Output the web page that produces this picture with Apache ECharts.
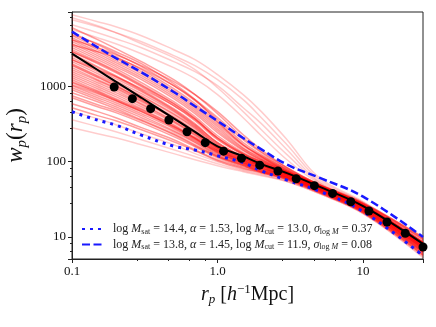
<!DOCTYPE html>
<html><head><meta charset="utf-8">
<script src="https://cdn.jsdelivr.net/npm/echarts@6/dist/echarts.min.js"></script>
<style>html,body{margin:0;padding:0;background:#fff;}#c{width:436px;height:327px;}</style>
</head><body><div id="c"></div>
<script>
// ---------- data ----------
const rpGrid = [0.1, 0.15, 0.2, 0.3, 0.5, 0.7, 1.0, 1.5, 2, 3, 5, 10, 25.8];
const bestFit = [2719, 1651, 1158, 706, 376, 249, 160, 118, 93, 70.4, 46.6, 25.7, 8.1];
const hodDotted = [461, 356, 306, 225, 161, 143, 120, 97, 75.6, 56.8, 40.6, 21.7, 5.65];
const hodDashed = [5330, 3300, 2380, 1540, 843, 545, 347, 206, 146, 91.5, 61.3, 34.3, 10.0];

const obsRp = [0.195, 0.26, 0.347, 0.463, 0.617, 0.823, 1.10, 1.46, 1.95, 2.60, 3.47, 4.63, 6.17, 8.23, 10.97, 14.6, 19.5, 25.8];
const obsWp = [982, 687, 506, 358, 250, 179, 138, 111, 89.9, 75.2, 59.4, 48.0, 37.9, 29.4, 22.1, 15.8, 11.2, 7.36];

// posterior samples (one per curve, on rpGrid)
const sampleA1 = [8958, 7240, 6200, 4715, 3072, 2263, 1430, 776, 462, 196, 61.3, 29.5, 9.2];
const sampleA2 = [7690, 6200, 5170, 3925, 2558, 1884, 1227, 666, 384, 168, 57.7, 28.6, 8.9];
const sampleA3 = [6596, 5170, 4302, 3267, 2129, 1568, 1021, 521, 320, 144, 54.3, 27.7, 8.6];
const sampleA4 = [8180, 6400, 5170, 3692, 2406, 1667, 961, 462, 266, 124, 52.6, 26.9, 8.4];
const sampleA5 = [5662, 4436, 3692, 2719, 1772, 1266, 776, 384, 221, 106, 51.1, 26.9, 8.4];
const sampleE1 = [462, 373, 310, 235, 168, 128, 100, 78.3, 69.3, 56.0, 38.8, 21.1, 5.6];
const sampleE2 = [361, 292, 250, 196, 144, 117, 94, 76.0, 67.2, 54.3, 37.6, 20.4, 5.5];
const sampleE3 = [283, 235, 208, 168, 128, 106, 88.6, 73.7, 65.2, 54.3, 37.6, 20.4, 5.3];
const sampleB1 = [6020, 4171, 3169, 2129, 1227, 776, 434, 208, 136, 83.3, 49.5, 26.9, 8.4];
const sampleB2 = [5170, 3580, 2719, 1827, 1021, 646, 361, 179, 124, 78.3, 48.0, 26.1, 8.1];
const sampleB3 = [4436, 3072, 2334, 1568, 877, 554, 310, 163, 117, 76.0, 48.0, 26.1, 8.1];
const sampleB4 = [3925, 2719, 2065, 1387, 776, 491, 274, 149, 110, 73.7, 46.6, 25.7, 8.1];
const sampleB5 = [3473, 2406, 1827, 1227, 686, 434, 243, 140, 106, 73.7, 48.0, 26.9, 8.6];
const sampleB6 = [3072, 2129, 1617, 1053, 589, 373, 208, 128, 100, 71.5, 46.6, 26.1, 8.4];
const sampleC1 = [2719, 1827, 1387, 904, 505, 320, 179, 117, 94, 69.3, 45.2, 25.3, 7.9];
const sampleC2 = [2406, 1667, 1266, 850, 476, 301, 173, 113, 91.3, 69.3, 45.2, 25.3, 7.6];
const sampleC3 = [2129, 1475, 1120, 752, 434, 283, 163, 110, 88.6, 67.2, 45.2, 24.5, 7.6];
const sampleC4 = [1884, 1305, 1021, 686, 396, 258, 153, 106, 88.6, 67.2, 43.8, 24.5, 7.4];
const sampleC5 = [1667, 1190, 932, 626, 373, 243, 149, 103, 85.9, 65.2, 43.8, 23.8, 7.2];
const sampleD1 = [1475, 1053, 825, 571, 340, 228, 144, 100, 83.3, 63.2, 42.5, 23.1, 7.0];
const sampleD2 = [1305, 932, 730, 505, 310, 208, 136, 97, 80.8, 63.2, 42.5, 23.1, 6.8];
const sampleD3 = [1120, 825, 646, 462, 283, 196, 132, 94, 78.3, 61.3, 41.2, 22.4, 6.6];
const sampleD4 = [961, 708, 571, 409, 258, 184, 124, 91.3, 76.0, 61.3, 41.2, 22.4, 6.4];
const sampleD5 = [825, 626, 505, 361, 235, 168, 117, 88.6, 73.7, 59.5, 40.0, 21.7, 6.2];
const sampleD6 = [708, 537, 448, 330, 215, 158, 113, 85.9, 73.7, 59.5, 40.0, 21.7, 6.0];
const sampleD7 = [589, 462, 384, 283, 196, 144, 106, 83.3, 71.5, 57.7, 38.8, 21.1, 5.8];
const sampleF1 = [4861, 3692, 2890, 2003, 1086, 666, 340, 168, 117, 73.7, 46.6, 26.1, 8.4];
const sampleF2 = [3580, 2890, 2406, 1719, 1021, 666, 384, 196, 132, 80.8, 49.5, 27.7, 9.2];
const sampleF3 = [2263, 1667, 1345, 932, 554, 361, 208, 128, 100, 73.7, 49.5, 28.6, 9.7];
const sampleF4 = [1053, 800, 646, 462, 292, 208, 140, 103, 88.6, 69.3, 48.0, 27.7, 10.0];
const sampleF5 = [4171, 3267, 2637, 1884, 1155, 776, 462, 228, 144, 83.3, 49.5, 27.7, 9.5];
const sampleG1 = [2890, 2003, 1521, 991, 554, 350, 196, 124, 97, 71.5, 46.6, 25.3, 7.9];
const sampleG2 = [2003, 1387, 1086, 730, 421, 274, 158, 110, 91.3, 67.2, 43.8, 24.5, 7.4];
const sampleG3 = [1568, 1120, 877, 589, 350, 235, 144, 103, 85.9, 65.2, 42.5, 23.8, 7.0];
const sampleG4 = [1227, 877, 686, 491, 301, 202, 136, 97, 83.3, 63.2, 42.5, 23.1, 6.8];
const sampleH1 = [4715, 3267, 2481, 1667, 932, 589, 330, 168, 120, 78.3, 48.0, 26.1, 8.1];
const sampleH2 = [3692, 2558, 1942, 1305, 730, 462, 258, 144, 106, 73.7, 48.0, 26.1, 8.1];
const sampleH3 = [3267, 2263, 1719, 1120, 626, 396, 221, 132, 103, 71.5, 46.6, 26.1, 8.1];
const sampleH4 = [2558, 1772, 1345, 877, 491, 310, 179, 117, 94, 69.3, 45.2, 25.3, 7.9];
const sampleH5 = [2263, 1568, 1190, 800, 462, 292, 168, 113, 91.3, 69.3, 45.2, 25.3, 7.6];
const sampleH6 = [1772, 1227, 961, 646, 384, 250, 153, 106, 88.6, 67.2, 43.8, 24.5, 7.4];
const sampleH7 = [1387, 991, 776, 537, 330, 221, 140, 100, 83.3, 65.2, 43.8, 23.8, 7.2];
const sampleH8 = [1155, 850, 666, 476, 292, 202, 132, 97, 80.8, 63.2, 42.5, 23.1, 7.0];
const sampleH9 = [904, 666, 537, 384, 250, 179, 120, 91.3, 76.0, 61.3, 41.2, 22.4, 6.6];
const sampleH10 = [752, 571, 476, 350, 228, 163, 117, 88.6, 73.7, 59.5, 40.0, 21.7, 6.2];
const sampleH11 = [521, 409, 350, 266, 184, 140, 103, 80.8, 71.5, 57.7, 38.8, 21.1, 5.8];
const sampleH12 = [1942, 1345, 1021, 666, 373, 243, 153, 110, 91.3, 67.2, 43.8, 23.8, 7.2];
const sampleH13 = [2890, 2065, 1568, 1021, 589, 373, 202, 124, 97, 69.3, 45.2, 24.5, 7.6];
const sampleH14 = [4171, 2890, 2195, 1475, 825, 521, 292, 153, 113, 76.0, 48.0, 26.9, 8.4];
const sampleH15 = [1021, 752, 607, 434, 274, 190, 128, 94, 78.3, 61.3, 41.2, 22.4, 6.4];
const outerSamples = [sampleA1, sampleA2, sampleA3, sampleA4, sampleA5, sampleE1, sampleE2, sampleE3];
const coreSamples = [sampleB1, sampleB2, sampleB3, sampleB4, sampleB5, sampleB6, sampleC1, sampleC2,
  sampleC3, sampleC4, sampleC5, sampleD1, sampleD2, sampleD3, sampleD4, sampleD5, sampleD6, sampleD7,
  sampleF1, sampleF2, sampleF3, sampleF4, sampleF5, sampleG1, sampleG2, sampleG3, sampleG4, sampleH1,
  sampleH2, sampleH3, sampleH4, sampleH5, sampleH6, sampleH7, sampleH8, sampleH9, sampleH10, sampleH11,
  sampleH12, sampleH13, sampleH14, sampleH15];

const xTickValues = [0.1, 1, 10];
const xTickLabels = ['0.1', '1.0', '10'];
const yTickValues = [10, 100, 1000];
const yTickLabels = ['10', '100', '1000'];

const legendLogMsat = [14.4, 13.8];
const legendAlpha = [1.53, 1.45];
const legendLogMcut = [13.0, 11.9];
const legendSigma = [0.37, 0.08];

// ---------- chart ----------
const SERIF = '"Liberation Serif", "DejaVu Serif", serif';
const BLUE = 'rgb(25,25,255)';
function tickFmt(vals, labels) {
  return function (v) {
    for (let i = 0; i < vals.length; i++) {
      if (Math.abs(Math.log10(v) - Math.log10(vals[i])) < 1e-6) return labels[i];
    }
    return '';
  };
}
function pairs(xs, ys) { return xs.map((x, i) => [x, ys[i]]); }
function legendText(i) {
  return '{gap|}{n|log }{i|M}{s|sat}{n| = ' + legendLogMsat[i].toFixed(1) + ', }{i|α}{n| = ' + legendAlpha[i].toFixed(2) +
    ', log }{i|M}{s|cut}{n| = ' + legendLogMcut[i].toFixed(1) + ', }{i|σ}{s|log }{si|M}{n| = ' + legendSigma[i].toFixed(2) + '}';
}
const legendNames = ['hodA', 'hodB'];

function sampleSeries(list, tag, alpha) {
  return list.map((s, k) => ({
    type: 'line', name: tag + k, data: pairs(rpGrid, s), symbol: 'none', showSymbol: false,
    smooth: 0.4, silent: true, z: 1,
    lineStyle: { color: 'rgba(255,0,0,' + alpha + ')', width: 1.5 }
  }));
}
const series = sampleSeries(outerSamples, 'outer', 0.2).concat(sampleSeries(coreSamples, 'core', 0.38));
series.push({
  type: 'line', name: 'hodA', data: pairs(rpGrid, hodDotted), symbol: 'none', smooth: 0.4, z: 3,
  lineStyle: { color: BLUE, width: 3, type: [3, 5], cap: 'butt' }, itemStyle: { color: BLUE }
});
series.push({
  type: 'line', name: 'hodB', data: pairs(rpGrid, hodDashed), symbol: 'none', smooth: 0.4, z: 3,
  lineStyle: { color: BLUE, width: 2.5, type: [8, 3.5], cap: 'butt' }, itemStyle: { color: BLUE }
});
series.push({
  type: 'line', name: 'best', data: pairs(rpGrid, bestFit), symbol: 'none', smooth: 0.4, z: 4,
  lineStyle: { color: '#000', width: 2 }
});
series.push({
  type: 'scatter', name: 'obs', data: pairs(obsRp, obsWp), symbol: 'circle', symbolSize: 9, z: 5,
  itemStyle: { color: '#000', opacity: 1 }
});

const chart = echarts.init(document.getElementById('c'), null, { renderer: 'canvas' });
chart.setOption({
  animation: false,
  grid: { left: 72, right: 13, top: 12, bottom: 68, show: true, borderColor: '#222', borderWidth: 1,
    backgroundColor: 'transparent', outerBoundsMode: 'none', containLabel: false },
  legend: {
    data: legendNames, orient: 'vertical', left: 76, top: 218, itemWidth: 20, itemHeight: 10, itemGap: 3,
    itemStyle: { opacity: 0 },
    formatter: function (name) { return legendText(legendNames.indexOf(name)); },
    textStyle: {
      color: '#222', fontFamily: SERIF, fontSize: 12,
      rich: {
        gap: { width: 6 },
        n: { fontFamily: SERIF, fontSize: 12, color: '#222' },
        i: { fontFamily: SERIF, fontSize: 12, fontStyle: 'italic', color: '#222' },
        s: { fontFamily: SERIF, fontSize: 8, color: '#222', padding: [5, 0, 0, 0] },
        si: { fontFamily: SERIF, fontSize: 8, fontStyle: 'italic', color: '#222', padding: [5, 0, 0, 0] }
      }
    }
  },
  xAxis: {
    type: 'log', logBase: 10, min: 0.1, max: 25.8,
    axisLine: { show: true, lineStyle: { color: '#222', width: 1 } },
    axisTick: { show: true, length: 4, lineStyle: { color: '#222' } },
    minorTick: { show: true, length: 2, lineStyle: { color: '#222' } },
    splitLine: { show: false },
    axisLabel: { formatter: tickFmt(xTickValues, xTickLabels), fontFamily: SERIF, fontSize: 13, color: '#111', margin: 6, hideOverlap: false },
    name: '{i|r}{s|p}{n| [}{i|h}{sup|−1}{n|Mpc]}', nameLocation: 'middle', nameGap: 21,
    nameTextStyle: {
      fontFamily: SERIF, fontSize: 20, color: '#111',
      rich: {
        n: { fontFamily: SERIF, fontSize: 20, color: '#111' },
        i: { fontFamily: SERIF, fontSize: 20, fontStyle: 'italic', color: '#111' },
        s: { fontFamily: SERIF, fontSize: 13, fontStyle: 'italic', color: '#111', padding: [10, 0, 0, 0] },
        sup: { fontFamily: SERIF, fontSize: 13, color: '#111', padding: [0, 0, 10, 0] }
      }
    }
  },
  yAxis: {
    type: 'log', logBase: 10, min: 5.1, max: 9730,
    axisLine: { show: true, lineStyle: { color: '#222', width: 1 } },
    axisTick: { show: true, length: 4, lineStyle: { color: '#222' } },
    minorTick: { show: true, length: 2, lineStyle: { color: '#222' } },
    splitLine: { show: false },
    axisLabel: { formatter: tickFmt(yTickValues, yTickLabels), fontFamily: SERIF, fontSize: 13, color: '#111', margin: 6, hideOverlap: false },
    name: '{i|w}{s|p}{n|(}{i|r}{s|p}{n|)}', nameLocation: 'middle', nameGap: 39, nameRotate: 90,
    nameTextStyle: {
      fontFamily: SERIF, fontSize: 23, color: '#111',
      rich: {
        n: { fontFamily: SERIF, fontSize: 23, color: '#111' },
        i: { fontFamily: SERIF, fontSize: 23, fontStyle: 'italic', color: '#111' },
        s: { fontFamily: SERIF, fontSize: 15, fontStyle: 'italic', color: '#111', padding: [11, 0, 0, 0] }
      }
    }
  },
  series: series
});
</script></body></html>
